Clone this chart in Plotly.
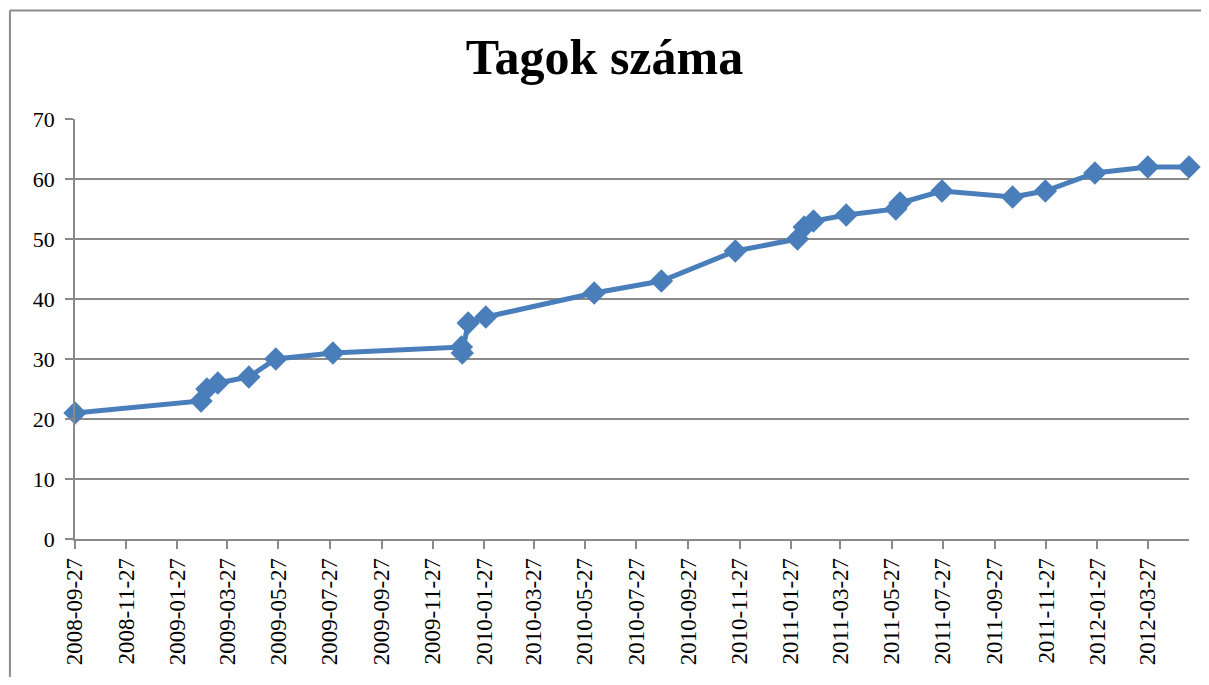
import plotly.graph_objects as go

dates = ["2008-09-27", "2009-02-24", "2009-03-03", "2009-03-16", "2009-04-22",
         "2009-05-24", "2009-07-31", "2009-12-31", "2010-01-01", "2010-01-08",
         "2010-01-29", "2010-06-07", "2010-08-26", "2010-11-22", "2011-02-04",
         "2011-02-12", "2011-02-23", "2011-04-03", "2011-06-01", "2011-06-06",
         "2011-07-26", "2011-10-18", "2011-11-26", "2012-01-24", "2012-03-27",
         "2012-05-15"]
members = [21, 23, 25, 26, 27, 30, 31, 32, 31, 36, 37, 41, 43, 48, 50,
           52, 53, 54, 55, 56, 58, 57, 58, 61, 62, 62]

tick_labels = ["2008-09-27", "2008-11-27", "2009-01-27", "2009-03-27", "2009-05-27",
               "2009-07-27", "2009-09-27", "2009-11-27", "2010-01-27", "2010-03-27",
               "2010-05-27", "2010-07-27", "2010-09-27", "2010-11-27", "2011-01-27",
               "2011-03-27", "2011-05-27", "2011-07-27", "2011-09-27", "2011-11-27",
               "2012-01-27", "2012-03-27"]

color = "#4A7EBB"
grid = "#8a8a8a"
font = "Liberation Serif"

fig = go.Figure(go.Scatter(
    x=dates, y=members, mode="lines+markers",
    line=dict(color=color, width=5),
    marker=dict(symbol="diamond", size=18, color=color),
    cliponaxis=False,
))

border = dict(color="#8c8c8c", width=2)
fig.update_layout(
    width=1193, height=669,
    margin=dict(l=67, r=12, t=111, b=136),
    paper_bgcolor="white", plot_bgcolor="white",
    showlegend=False,
    title=dict(text="<b>Tagok száma</b>", x=0.5, xanchor="center",
               y=0.927, yanchor="middle",
               font=dict(family=font, size=50, color="black")),
    font=dict(family=font, color="black"),
    shapes=[
        dict(type="line", xref="paper", yref="paper",
             x0=-0.0584, x1=1.2, y0=1.2583, y1=1.2583, line=border),
        dict(type="line", xref="paper", yref="paper",
             x0=-0.0584, x1=-0.0584, y0=-0.5, y1=1.2583, line=border),
    ],
)

fig.update_xaxes(
    type="date", range=[dates[0], dates[-1]],
    tickvals=tick_labels, ticktext=tick_labels, tickangle=-90,
    tickfont=dict(family=font, size=23, color="black"),
    ticks="outside", ticklen=8, tickcolor=grid, tickwidth=1.5,
    showgrid=False, showline=True, linecolor=grid, linewidth=1.5,
    zeroline=False,
)
fig.update_yaxes(
    range=[0, 70], dtick=10,
    tickfont=dict(family=font, size=22, color="black"),
    ticks="outside", ticklen=8, tickcolor=grid, tickwidth=1.5,
    ticklabelstandoff=6,
    showgrid=True, gridcolor=grid, gridwidth=1.5,
    showline=True, linecolor=grid, linewidth=1.5,
    zeroline=False,
)

fig.write_html("out.html")
